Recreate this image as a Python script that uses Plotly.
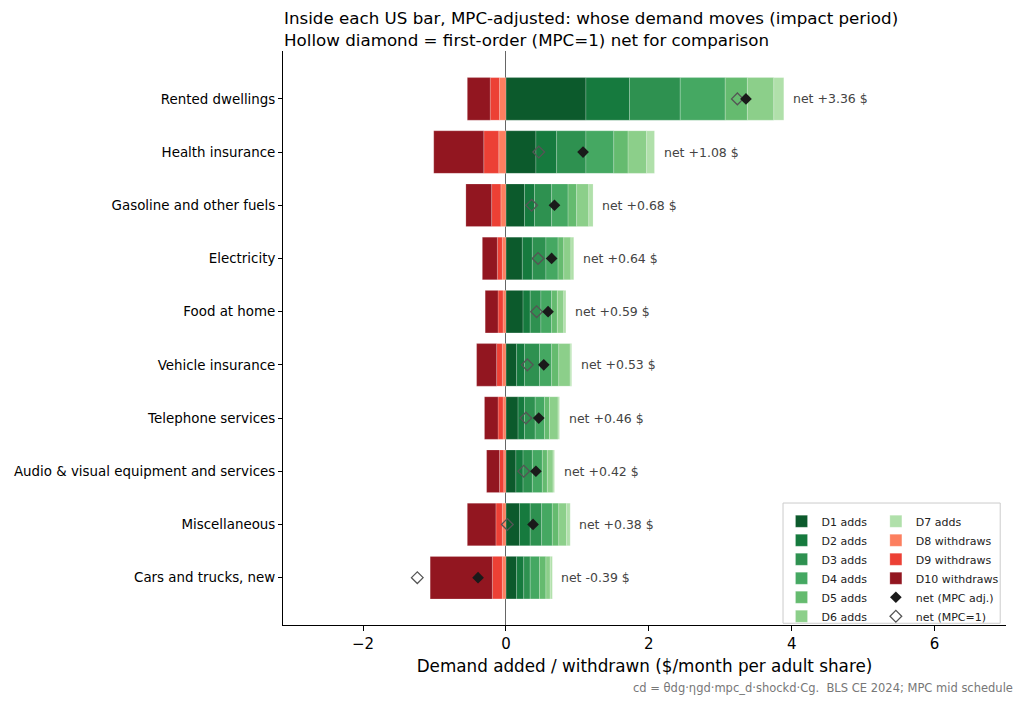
import plotly.graph_objects as go

categories = ["Rented dwellings", "Health insurance", "Gasoline and other fuels", "Electricity",
              "Food at home", "Vehicle insurance", "Telephone services",
              "Audio & visual equipment and services", "Miscellaneous", "Cars and trucks, new"]

# positive contributions (adds), deciles D1..D7
d1 = [1.12, 0.42, 0.26, 0.23, 0.24, 0.15, 0.17, 0.14, 0.19, 0.15]
d2 = [0.61, 0.29, 0.14, 0.14, 0.10, 0.11, 0.09, 0.10, 0.15, 0.10]
d3 = [0.71, 0.41, 0.24, 0.19, 0.15, 0.21, 0.15, 0.13, 0.16, 0.09]
d4 = [0.63, 0.39, 0.23, 0.17, 0.15, 0.17, 0.13, 0.14, 0.15, 0.13]
d5 = [0.31, 0.20, 0.12, 0.08, 0.08, 0.10, 0.07, 0.07, 0.09, 0.09]
d6 = [0.37, 0.26, 0.17, 0.10, 0.09, 0.16, 0.12, 0.08, 0.11, 0.06]
d7 = [0.14, 0.11, 0.06, 0.04, 0.03, 0.02, 0.02, 0.02, 0.05, 0.03]
# withdrawals (negative), deciles D8..D10
d8 = [-0.09, -0.10, -0.07, -0.05, -0.04, -0.05, -0.04, -0.03, -0.05, -0.05]
d9 = [-0.13, -0.21, -0.13, -0.07, -0.07, -0.08, -0.07, -0.06, -0.09, -0.14]
d10 = [-0.32, -0.70, -0.36, -0.21, -0.18, -0.28, -0.19, -0.18, -0.40, -0.87]

net_mpc = [3.36, 1.08, 0.68, 0.64, 0.59, 0.53, 0.46, 0.42, 0.38, -0.39]
net_first = [3.24, 0.46, 0.36, 0.45, 0.43, 0.30, 0.28, 0.25, 0.02, -1.24]

adds = [d1, d2, d3, d4, d5, d6, d7]
withdraws = [d8, d9, d10]
add_names = [f"D{i} adds" for i in range(1, 8)]
wd_names = ["D8 withdraws", "D9 withdraws", "D10 withdraws"]
add_colors = ["#0c5a2c", "#167a3e", "#2e9150", "#45a862", "#65bb6f", "#8ccf8a", "#b0e0aa"]
wd_colors = ["#fc7f5f", "#ec4035", "#921620"]

fig = go.Figure()
for i, (vals, name, col) in enumerate(zip(adds, add_names, add_colors)):
    fig.add_trace(go.Bar(y=categories, x=vals, orientation="h", name=name,
                         marker=dict(color=col, line=dict(color="white", width=0.2)),
                         legend="legend" if i < 6 else "legend2", legendrank=i + 1))
for j, (vals, name, col) in enumerate(zip(withdraws, wd_names, wd_colors)):
    fig.add_trace(go.Bar(y=categories, x=vals, orientation="h", name=name,
                         marker=dict(color=col, line=dict(color="white", width=0.2)),
                         legend="legend2", legendrank=10 + j))

fig.add_trace(go.Scatter(y=categories, x=net_first, mode="markers", name="net (MPC=1)",
                         marker=dict(symbol="diamond-open", size=9, color="#555555",
                                     line=dict(width=1.3, color="#555555")),
                         legend="legend2", legendrank=21))
fig.add_trace(go.Scatter(y=categories, x=net_mpc, mode="markers", name="net (MPC adj.)",
                         marker=dict(symbol="diamond", size=9, color="#1a1a1a"),
                         legend="legend2", legendrank=20))

pos_tot = [sum(v) for v in zip(*adds)]
for cat, pt, n in zip(categories, pos_tot, net_mpc):
    sign = "+" if n >= 0 else ""
    fig.add_annotation(x=pt + 0.1, y=cat, text=f"net {sign}{n:.2f} $", showarrow=False,
                       xanchor="left", yanchor="middle", font=dict(size=12.5, color="#444444"))

fig.add_annotation(xref="paper", yref="paper", x=1.0125, y=-0.11, xanchor="right", yanchor="middle",
                   text="cd = θdg·ηgd·mpc_d·shockd·Cg.  BLS CE 2024; MPC mid schedule",
                   showarrow=False, font=dict(size=11.5, color="#777777"))

fig.add_annotation(xref="paper", yref="paper", x=-0.002, y=1.078, xanchor="left", yanchor="top",
                   align="left", showarrow=False,
                   text="Inside each US bar, MPC-adjusted: whose demand moves (impact period)<br>"
                        "Hollow diamond = first-order (MPC=1) net for comparison",
                   font=dict(size=16.7, color="#000"))

fig.add_shape(type="rect", xref="paper", yref="paper", x0=0.6916, x1=0.992, y0=0.003, y1=0.2125,
              line=dict(color="#cccccc", width=1), fillcolor="rgba(255,255,255,0.8)", layer="below")

legend_common = dict(font=dict(size=11, color="#222"), bgcolor="rgba(0,0,0,0)", borderwidth=0,
                     orientation="v", yanchor="top", xanchor="left", tracegroupgap=0, itemwidth=30)

fig.update_layout(
    width=1024, height=705,
    margin=dict(l=283, r=18, t=51, b=80),
    paper_bgcolor="white", plot_bgcolor="white",
    font=dict(family="DejaVu Sans", color="#000"),
    barmode="relative", bargap=0.2,
    legend=dict(x=0.6895, y=0.206, **legend_common),
    legend2=dict(x=0.820, y=0.206, **legend_common),
    xaxis=dict(range=[-3.12, 7.0], dtick=2, tick0=0, showgrid=False, showline=True,
               linecolor="#000", linewidth=1, ticks="outside", ticklen=5, tickcolor="#000",
               tickfont=dict(size=15), zeroline=True, zerolinecolor="#666666", zerolinewidth=1,
               title=dict(text="Demand added / withdrawn ($/month per adult share)",
                          font=dict(size=16.8), standoff=8)),
    yaxis=dict(categoryorder="array", categoryarray=categories, range=[9.89, -0.9],
               showgrid=False, showline=True, linecolor="#000", linewidth=1,
               ticks="outside", ticklen=4, tickcolor="#000", tickfont=dict(size=13.4), zeroline=False),
)

fig.write_html("out.html", config={"displayModeBar": False},
               post_script="document.body.style.margin='0';")
